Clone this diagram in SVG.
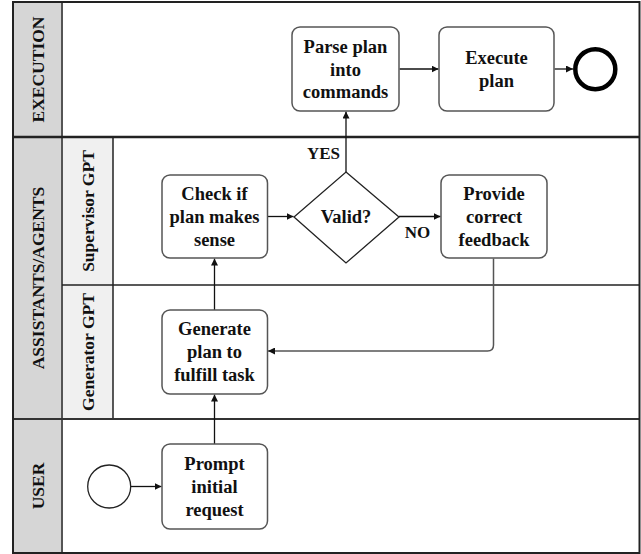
<svg xmlns="http://www.w3.org/2000/svg" width="641" height="554" viewBox="0 0 641 554">
<style>
  .node { font-size: 18.5px; text-anchor: middle; font-weight: bold; fill: #111; }
  .lane { font-size: 17.5px; text-anchor: middle; font-weight: bold; fill: #111; }
  .lbl { font-size: 17px; text-anchor: middle; font-weight: bold; fill: #111; }
  .box { fill: #fff; stroke: #555; stroke-width: 1.5; }
  .conn { fill: none; stroke: #111; stroke-width: 1.3; }
  .conn2 { fill: none; stroke: #555; stroke-width: 1.5; }
</style>
<defs>
  <marker id="arr" viewBox="0 0 10 10" refX="10" refY="5" markerWidth="7" markerHeight="7" markerUnits="userSpaceOnUse" orient="auto">
    <path d="M0,0 L10,5 L0,10 z" fill="#111"/>
  </marker>
</defs>
<rect width="641" height="554" fill="#fff"/>
<g font-family="Liberation Serif, Times New Roman, serif">
<g id="lanes">
  <rect x="13" y="2" width="49" height="551" fill="#d6d6d6"/>
  <rect x="62" y="137" width="51" height="282" fill="#f0f0f0"/>
  <line x1="62" y1="2" x2="62" y2="553" stroke="#555" stroke-width="2"/>
  <line x1="113" y1="137" x2="113" y2="419" stroke="#222" stroke-width="1.5"/>
  <line x1="13" y1="137" x2="639.5" y2="137" stroke="#222" stroke-width="2.5"/>
  <line x1="62" y1="285" x2="639.5" y2="285" stroke="#222" stroke-width="1.5"/>
  <line x1="13" y1="419" x2="639.5" y2="419" stroke="#333" stroke-width="2"/>
  <rect x="13" y="2" width="626.5" height="551" fill="none" stroke="#222" stroke-width="2"/>
  <text class="lane" transform="translate(43.5,69.5) rotate(-90)">EXECUTION</text>
  <text class="lane" transform="translate(43.5,278) rotate(-90)">ASSISTANTS/AGENTS</text>
  <text class="lane" transform="translate(43.5,486) rotate(-90)">USER</text>
  <text class="lane" transform="translate(93.5,211) rotate(-90)">Supervisor GPT</text>
  <text class="lane" transform="translate(93.5,352) rotate(-90)">Generator GPT</text>
</g>
<g id="connectors">
  <line class="conn" x1="131" y1="486.5" x2="161.5" y2="486.5" marker-end="url(#arr)"/>
  <line class="conn" x1="214.5" y1="444" x2="214.5" y2="394.5" marker-end="url(#arr)"/>
  <line class="conn" x1="214.5" y1="310" x2="214.5" y2="258.5" marker-end="url(#arr)"/>
  <line class="conn" x1="267.5" y1="216.5" x2="293.5" y2="216.5" marker-end="url(#arr)"/>
  <line class="conn" x1="346" y1="172" x2="346" y2="111.5" marker-end="url(#arr)"/>
  <line class="conn" x1="399" y1="216.5" x2="440.5" y2="216.5" marker-end="url(#arr)"/>
  <path class="conn2" d="M493.5,258.5 V345 Q493.5,351 487.5,351 H268" marker-end="url(#arr)"/>
  <line class="conn" x1="399.5" y1="69" x2="438.5" y2="69" marker-end="url(#arr)"/>
  <line class="conn" x1="554.5" y1="69" x2="573" y2="69" marker-end="url(#arr)"/>
  <text class="lbl" x="323.5" y="159">YES</text>
  <text class="lbl" x="417.5" y="238">NO</text>
</g>
<g id="start">
  <circle cx="109.2" cy="486.5" r="21.5" fill="#fff" stroke="#222" stroke-width="1.3"/>
</g>
<g id="prompt">
  <rect class="box" x="162" y="444" width="105.5" height="85" rx="8"/>
  <text class="node" x="214.5" y="470">Prompt</text>
  <text class="node" x="214.5" y="493">initial</text>
  <text class="node" x="214.5" y="516">request</text>
</g>
<g id="generate">
  <rect class="box" x="162" y="310" width="105.5" height="84" rx="8"/>
  <text class="node" x="214.5" y="335">Generate</text>
  <text class="node" x="214.5" y="358">plan to</text>
  <text class="node" x="214.5" y="381">fulfill task</text>
</g>
<g id="check">
  <rect class="box" x="162" y="175" width="105.5" height="83" rx="8"/>
  <text class="node" x="214.5" y="200">Check if</text>
  <text class="node" x="214.5" y="223">plan makes</text>
  <text class="node" x="214.5" y="246">sense</text>
</g>
<g id="valid">
  <polygon points="346,172 399,217 346,263 294,217" fill="#fff" stroke="#222" stroke-width="1.3"/>
  <text class="node" x="346" y="223">Valid?</text>
</g>
<g id="feedback">
  <rect class="box" x="441" y="175" width="106" height="83" rx="8"/>
  <text class="node" x="494" y="200">Provide</text>
  <text class="node" x="494" y="223">correct</text>
  <text class="node" x="494" y="246">feedback</text>
</g>
<g id="parse">
  <rect class="box" x="292" y="27" width="107" height="84" rx="8"/>
  <text class="node" x="345.5" y="53">Parse plan</text>
  <text class="node" x="345.5" y="75.5">into</text>
  <text class="node" x="345.5" y="98">commands</text>
</g>
<g id="execute">
  <rect class="box" x="439" y="27" width="115" height="84" rx="8"/>
  <text class="node" x="496.5" y="64">Execute</text>
  <text class="node" x="496.5" y="86.5">plan</text>
</g>
<g id="end">
  <circle cx="595.3" cy="69.3" r="20" fill="#fff" stroke="#000" stroke-width="4.5"/>
</g>
</g>
</svg>
